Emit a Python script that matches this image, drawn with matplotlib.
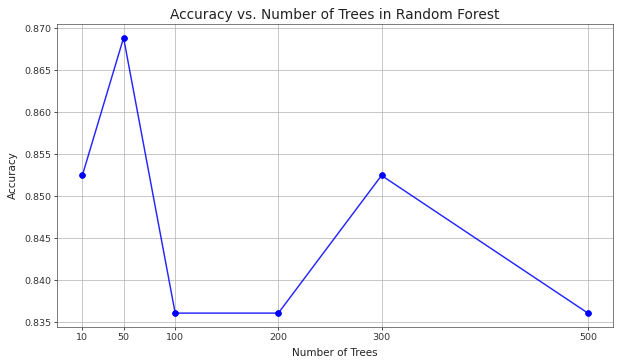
import numpy as np
import matplotlib
matplotlib.use('Agg')
import matplotlib.pyplot as plt

n_trees = [10, 50, 100, 200, 300, 500]
accuracy = [0.85246, 0.86885, 0.83607, 0.83607, 0.85246, 0.83607]

# drawn at original size, saved at low dpi to get 620x364
fig = plt.figure(figsize=(10, 364 / 62), dpi=62)
ax = fig.add_axes([0.092, 0.102, 0.897, 0.832])
ax.plot(n_trees, accuracy, color='blue', marker='o', linewidth=1.7, alpha=0.85)
ax.plot(n_trees, accuracy, color='blue', marker='o', markersize=6.5, linestyle='none')
ax.set_xticks(n_trees)
ax.set_yticks(np.arange(0.835, 0.8701, 0.005))
ax.tick_params(labelsize=11, labelcolor='#333333')
ax.set_title('Accuracy vs. Number of Trees in Random Forest', fontsize=16, color='#222222')
ax.set_xlabel('Number of Trees', fontsize=12, color='#222222', labelpad=7)
ax.set_ylabel('Accuracy', fontsize=12, color='#222222', labelpad=7)
ax.grid(True)
for s in ax.spines.values():
    s.set_color('#444444')
plt.savefig('out.png', format='png', dpi=62)
plt.close()
